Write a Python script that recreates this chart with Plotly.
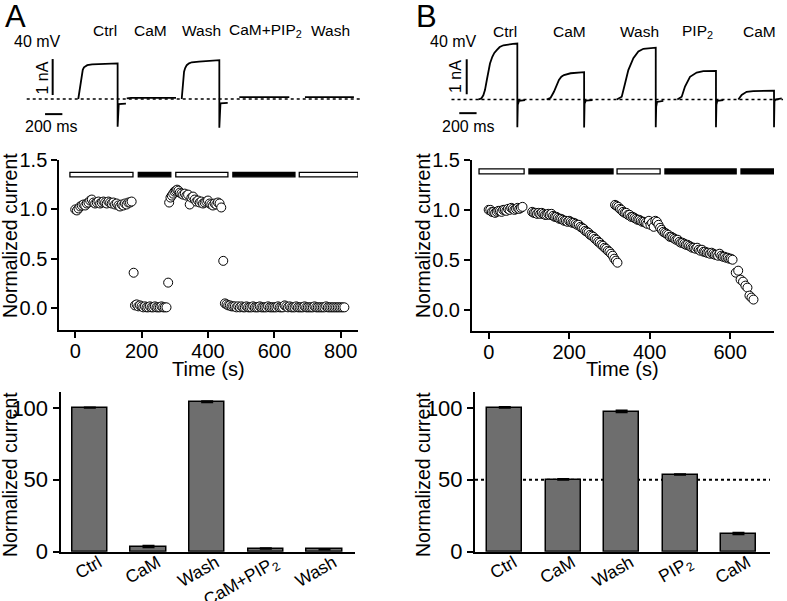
import plotly.graph_objects as go

W, H = 787, 601
FONT = "Liberation Sans, Arial, sans-serif"

# ---------------- panel A: example current sweeps (ms, nA) ----------------
a_sweep_names = ["Ctrl", "CaM", "Wash", "CaM+PIP<sub>2</sub>", "Wash"]
a_sweep_start = [596, 1156, 1792, 2458, 3217]
a_sweep_t = [
    [0, 6, 14, 20, 29, 39, 52, 66, 85, 104, 160, 231, 330, 455, 455, 460, 468, 551],
    [0, 50, 570],
    [0, 6, 12, 20, 27, 40, 58, 85, 116, 200, 330, 435, 435, 440, 448, 532],
    [0, 578],
    [0, 566],
]
a_sweep_i = [
    [0, 0.10, 0.28, 0.39, 0.56, 0.71, 0.81, 0.88, 0.92, 0.94, 0.96, 0.97, 0.98, 0.99, -0.77, -0.22, -0.14, -0.13],
    [0.02, 0.03, 0.03],
    [0, 0.15, 0.39, 0.60, 0.76, 0.86, 0.94, 0.99, 1.02, 1.04, 1.06, 1.08, -0.80, -0.20, -0.12, -0.11],
    [0.05, 0.05],
    [0.05, 0.05],
]
a_baseline_t = [0, 3884]

# ---------------- panel B: example current sweeps (ms, nA) ----------------
b_sweep_names = ["Ctrl", "CaM", "Wash", "PIP<sub>2</sub>", "CaM"]
b_sweep_start = [310, 1100, 1910, 2610, 3315]
b_sweep_t = [
    [0, 35, 58, 77, 98, 116, 135, 162, 185, 213, 247, 290, 330, 400, 451, 451, 456, 470, 540],
    [0, 46, 84, 115, 142, 170, 200, 277, 347, 433, 433, 438, 452, 530],
    [0, 58, 96, 134, 192, 250, 308, 365, 443, 451, 451, 456, 466, 538],
    [0, 51, 89, 147, 224, 301, 447, 447, 452, 462, 532],
    [0, 39, 96, 173, 413, 413, 418, 430, 502],
]
b_sweep_i = [
    [0, 0.03, 0.12, 0.27, 0.55, 0.80, 1.03, 1.22, 1.33, 1.41, 1.50, 1.55, 1.57, 1.59, 1.60, -0.79, -0.15, -0.04, -0.02],
    [0, 0.05, 0.22, 0.40, 0.56, 0.65, 0.70, 0.75, 0.77, 0.78, -0.80, -0.12, -0.03, -0.02],
    [0, 0.08, 0.46, 0.84, 1.18, 1.37, 1.45, 1.47, 1.48, 1.48, -0.79, -0.20, -0.07, -0.04],
    [0, 0.08, 0.37, 0.65, 0.77, 0.81, 0.82, -0.79, -0.15, -0.04, -0.02],
    [0, 0.13, 0.22, 0.24, 0.25, -0.79, -0.05, 0.00, 0.03],
]
b_baseline_t = [0, 3832]

# ---------------- panel A: time course (s, normalized) ----------------
a_ctrl_t = list(range(0, 175, 5))
a_ctrl_v = [1.00, 0.99, 1.01, 1.03, 1.04, 1.05, 1.04, 1.06, 1.07, 1.09,
            1.10, 1.07, 1.06, 1.07, 1.08, 1.06, 1.07, 1.08, 1.07, 1.06,
            1.08, 1.07, 1.06, 1.07, 1.05, 1.06, 1.04, 1.03, 1.05, 1.04,
            1.06, 1.05, 1.07, 1.07, 1.08]
a_cam_t = [176] + list(range(180, 280, 5)) + [280]
a_cam_v = [0.36, 0.03, 0.04, 0.02, 0.03, 0.02, 0.01, 0.02, 0.01, 0.01, 0.02,
           0.01, 0.01, 0.02, 0.01, 0.01, 0.01, 0.02, 0.01, 0.01, 0.01, 0.26]
a_wash_t = list(range(283, 319, 4)) + list(range(320, 445, 5))
a_wash_v = [1.07, 1.12, 1.14, 1.16, 1.18, 1.19, 1.20, 1.19, 1.17, 1.16,
            1.15, 1.16, 1.14, 1.15, 1.05, 1.12, 1.13, 1.10, 1.08, 1.09,
            1.07, 1.08, 1.06, 1.07, 1.08, 1.09, 1.06, 1.05, 1.04, 1.06,
            1.05, 1.07, 1.06, 1.02]
a_pip_t = [446] + list(range(451, 816, 5))
a_pip_v = [0.48,
           0.05, 0.04, 0.03, 0.03, 0.02, 0.02, 0.02, 0.01, 0.02, 0.01,
           0.02, 0.01, 0.01, 0.02, 0.01, 0.01, 0.01, 0.02, 0.01, 0.01,
           0.01, 0.02, 0.01, 0.01, 0.01, 0.01, 0.02, 0.01, 0.01, 0.01,
           0.01, 0.01, 0.02, 0.01, 0.01, 0.01, 0.03, 0.02, 0.01, 0.02,
           0.01, 0.01, 0.01, 0.02, 0.01, 0.01, 0.01, 0.01, 0.02, 0.01,
           0.01, 0.01, 0.01, 0.01, 0.02, 0.01, 0.01, 0.01, 0.01, 0.01,
           0.01, 0.02, 0.01, 0.01, 0.01, 0.01, 0.01, 0.01, 0.01, 0.01,
           0.01, 0.01, 0.01]
# application bars: start, end, filled?
a_app_start = [-16, 190, 303, 475, 675]
a_app_end = [174, 288, 460, 662, 852]
a_app_filled = [False, True, False, True, False]

# ---------------- panel B: time course (s, normalized) ----------------
b_ctrl_t = list(range(0, 88, 4))
b_ctrl_v = [1.00, 1.00, 0.98, 0.98, 0.97, 0.98, 0.99, 0.99, 0.98, 1.00, 1.00,
            0.99, 1.01, 1.00, 1.02, 1.01, 1.00, 1.01, 1.02, 1.01, 1.02, 1.03]
b_cam_t = list(range(108, 324, 4))
b_cam_v = [0.98, 0.97, 0.97, 0.96, 0.97, 0.96, 0.97, 0.96, 0.95, 0.95,
           0.96, 0.95, 0.96, 0.94, 0.93, 0.93, 0.92, 0.91, 0.91, 0.90,
           0.89, 0.89, 0.88, 0.89, 0.88, 0.87, 0.87, 0.86, 0.85, 0.85,
           0.83, 0.82, 0.81, 0.79, 0.78, 0.77, 0.75, 0.74, 0.73, 0.71,
           0.70, 0.68, 0.67, 0.65, 0.64, 0.62, 0.61, 0.59, 0.58, 0.56,
           0.54, 0.51, 0.49, 0.47]
b_wash_t = list(range(314, 610, 4))
b_wash_v = [1.05, 1.04, 1.03, 1.01, 1.00, 0.98, 0.97, 0.97, 0.95, 0.95,
            0.93, 0.93, 0.92, 0.91, 0.90, 0.90, 0.89, 0.88, 0.88, 0.87,
            0.86, 0.89, 0.85, 0.87, 0.83, 0.89, 0.88, 0.85, 0.82, 0.80,
            0.78, 0.77, 0.76, 0.75, 0.73, 0.73, 0.72, 0.71, 0.70, 0.70,
            0.68, 0.67, 0.67, 0.66, 0.65, 0.65, 0.64, 0.63, 0.62, 0.62,
            0.61, 0.62, 0.60, 0.59, 0.60, 0.58, 0.58, 0.57, 0.57, 0.56,
            0.57, 0.56, 0.55, 0.55, 0.54, 0.56, 0.54, 0.53, 0.53, 0.52,
            0.52, 0.51, 0.51, 0.50]
b_cam2_t = [614, 620, 626, 632, 638, 643, 648, 653, 658]
b_cam2_v = [0.37, 0.39, 0.30, 0.28, 0.24, 0.22, 0.14, 0.12, 0.10]
b_app_start = [-24, 100, 319, 438, 627]
b_app_end = [88, 309, 426, 615, 709]
b_app_filled = [False, True, False, True, True]

# ---------------- summary bars (% of control) ----------------
a_bar_labels = ["Ctrl", "CaM", "Wash", "CaM+PIP<sub>2</sub>", "Wash"]
a_bar_vals = [100, 3.1, 103.9, 2.1, 1.6]
a_bar_err = [0.3, 1.0, 0.7, 0.3, 0.3]
b_bar_labels = ["Ctrl", "CaM", "Wash", "PIP<sub>2</sub>", "CaM"]
b_bar_vals = [100, 50, 96.9, 53.5, 12.1]
b_bar_err = [0.6, 0.5, 1.2, 0.4, 1.0]


def fx(p):
    return p / W


def fy(p):
    return 1 - p / H


fig = go.Figure()

# sweeps
for starts, ts, cur, ax in [(a_sweep_start, a_sweep_t, a_sweep_i, ("x", "y")),
                            (b_sweep_start, b_sweep_t, b_sweep_i, ("x2", "y2"))]:
    for t0, t, i in zip(starts, ts, cur):
        fig.add_trace(go.Scatter(x=[t0 + v for v in t], y=i, mode="lines",
                                 line=dict(color="black", width=1.8),
                                 xaxis=ax[0], yaxis=ax[1], hoverinfo="skip"))
for bt, ax in [(a_baseline_t, ("x", "y")), (b_baseline_t, ("x2", "y2"))]:
    fig.add_trace(go.Scatter(x=bt, y=[0, 0], mode="lines",
                             line=dict(color="black", width=1.5, dash="dot"),
                             xaxis=ax[0], yaxis=ax[1], hoverinfo="skip"))

# time courses
circ = dict(size=9, color="white", line=dict(color="black", width=1))
for t, v in [(a_ctrl_t, a_ctrl_v), (a_cam_t, a_cam_v), (a_wash_t, a_wash_v), (a_pip_t, a_pip_v)]:
    fig.add_trace(go.Scatter(x=t, y=v, mode="markers", marker=circ, xaxis="x3", yaxis="y3"))
for t, v in [(b_ctrl_t, b_ctrl_v), (b_cam_t, b_cam_v), (b_wash_t, b_wash_v), (b_cam2_t, b_cam2_v)]:
    fig.add_trace(go.Scatter(x=t, y=v, mode="markers", marker=circ, xaxis="x4", yaxis="y4"))

# summary bars
for vals, err, ax in [(a_bar_vals, a_bar_err, ("x5", "y5")), (b_bar_vals, b_bar_err, ("x6", "y6"))]:
    fig.add_trace(go.Bar(x=list(range(len(vals))), y=vals, width=0.6,
                         marker=dict(color="#6e6e6e", line=dict(color="black", width=1.5)),
                         error_y=dict(type="data", array=err, arrayminus=[0] * len(err),
                                      symmetric=False, color="black", thickness=2, width=6),
                         xaxis=ax[0], yaxis=ax[1]))

shapes = []
# application bars
for s, e, f, ax, y0, y1 in [(a_app_start, a_app_end, a_app_filled, ("x3", "y3"), 1.33, 1.375),
                            (b_app_start, b_app_end, b_app_filled, ("x4", "y4"), 1.36, 1.41)]:
    for x0, x1, filled in zip(s, e, f):
        shapes.append(dict(type="rect", xref=ax[0], yref=ax[1], x0=x0, x1=x1, y0=y0, y1=y1,
                           fillcolor="black" if filled else "white",
                           line=dict(color="black", width=1.3)))
# scale bars
for ax, xv, xh0, xh1, yv0, yv1, yh in [(("x", "y"), 300, 212, 412, 0.11, 1.11, -0.42),
                                       (("x2", "y2"), 176, 90, 290, 0.15, 1.15, -0.39)]:
    shapes.append(dict(type="line", xref=ax[0], yref=ax[1], x0=xv, x1=xv, y0=yv0, y1=yv1,
                       line=dict(color="black", width=2)))
    shapes.append(dict(type="line", xref=ax[0], yref=ax[1], x0=xh0, x1=xh1, y0=yh, y1=yh,
                       line=dict(color="black", width=2)))
# 50 % reference line in B
shapes.append(dict(type="line", xref="x6", yref="y6", x0=-0.51, x1=4.54, y0=50, y1=50,
                   layer="below", line=dict(color="black", width=1.8, dash="dot")))

ann = []


def label(text, x, y, size, angle=0):
    ann.append(dict(text=text, x=fx(x), y=fy(y), xref="paper", yref="paper",
                    xanchor="center", yanchor="middle", showarrow=False,
                    textangle=angle, font=dict(size=size, color="black", family=FONT)))


label("A", 15, 17, 31)
label("B", 427, 17, 31)
for name, x in zip(a_sweep_names, [105, 150.7, 202, 265.5, 330.3]):
    label(name, x, 31, 15.5)
for name, x in zip(b_sweep_names, [504.7, 569, 639.7, 697, 759]):
    label(name, x, 31.5, 15.5)
label("40 mV", 37.5, 42, 16)
label("40 mV", 453, 42, 16)
label("1 nA", 41.5, 78, 16, -90)
label("1 nA", 455, 77, 16, -90)
label("200 ms", 51, 126, 16)
label("200 ms", 468, 126.5, 16)
label("Normalized current", 10, 236, 19.5, -90)
label("Normalized current", 423, 236, 19.5, -90)
label("Time (s)", 208, 369, 20)
label("Time (s)", 622, 369, 20)
label("Normalized current", 10, 475, 19.5, -90)
label("Normalized current", 423, 475, 19.5, -90)

hidden = dict(visible=False, showgrid=False, zeroline=False, fixedrange=True, automargin=False)
axl = dict(showline=True, linewidth=2, linecolor="black", showgrid=False, zeroline=False,
           tickcolor="black", tickwidth=2, ticklen=6, automargin=False)
sc_font = dict(size=20, color="black", family=FONT)
cat_font = dict(size=17.5, color="black", family=FONT)
bar_font = dict(size=22, color="black", family=FONT)
cat_ax = dict(tickvals=list(range(5)), tickangle=-30, ticks="", ticklabelstandoff=-8,
              ticklabelshift=9, tickfont=cat_font)

fig.update_layout(
    template="none",
    width=W, height=H, autosize=False, showlegend=False,
    margin=dict(l=0, r=0, t=0, b=0, pad=0),
    paper_bgcolor="white", plot_bgcolor="white",
    font=dict(family=FONT, color="black"),
    bargap=0,
    xaxis=dict(domain=[0, fx(393)], range=[-309, 4235], anchor="y", **hidden),
    yaxis=dict(domain=[fy(135), fy(30)], range=[-1.0, 1.917], anchor="x", **hidden),
    xaxis2=dict(domain=[fx(393), 1], range=[-676, 3878], anchor="y2", **hidden),
    yaxis2=dict(domain=[fy(135), fy(30)], range=[-1.014, 1.986], anchor="x2", **hidden),
    xaxis3=dict(domain=[fx(59.3), fx(358)], range=[-48, 852], anchor="y3", ticklabelstandoff=-4,
                tickvals=[0, 200, 400, 600, 800], ticks="outside", tickfont=sc_font, **axl),
    yaxis3=dict(domain=[fy(330), fy(160)], range=[-0.219, 1.5], anchor="x3",
                tickvals=[0, 0.5, 1.0, 1.5], tickformat=".1f", ticks="outside", tickfont=sc_font, **axl),
    xaxis4=dict(domain=[fx(472), fx(774)], range=[-41.5, 709], anchor="y4", ticklabelstandoff=-4,
                tickvals=[0, 200, 400, 600], ticks="outside", tickfont=sc_font, **axl),
    yaxis4=dict(domain=[fy(330.5), fy(160)], range=[-0.21, 1.5], anchor="x4",
                tickvals=[0, 0.5, 1.0, 1.5], tickformat=".1f", ticks="outside", tickfont=sc_font, **axl),
    xaxis5=dict(domain=[fx(60.5), fx(355)], range=[-0.5, 4.52], anchor="y5",
                ticktext=a_bar_labels, **cat_ax, **axl),
    yaxis5=dict(domain=[fy(551.7), fy(392)], range=[0, 111], anchor="x5",
                tickvals=[0, 50, 100], ticks="outside", tickfont=bar_font, **axl),
    xaxis6=dict(domain=[fx(475), fx(770)], range=[-0.51, 4.54], anchor="y6",
                ticktext=b_bar_labels, **cat_ax, **axl),
    yaxis6=dict(domain=[fy(551.7), fy(392)], range=[0, 111], anchor="x6",
                tickvals=[0, 50, 100], ticks="outside", tickfont=bar_font, **axl),
    shapes=shapes,
    annotations=ann,
)

# the page body has a default 8px margin; drop it so the figure fills the window
fig.write_html("out.html", config={"displayModeBar": False},
               post_script="document.body.style.margin='0px';")
